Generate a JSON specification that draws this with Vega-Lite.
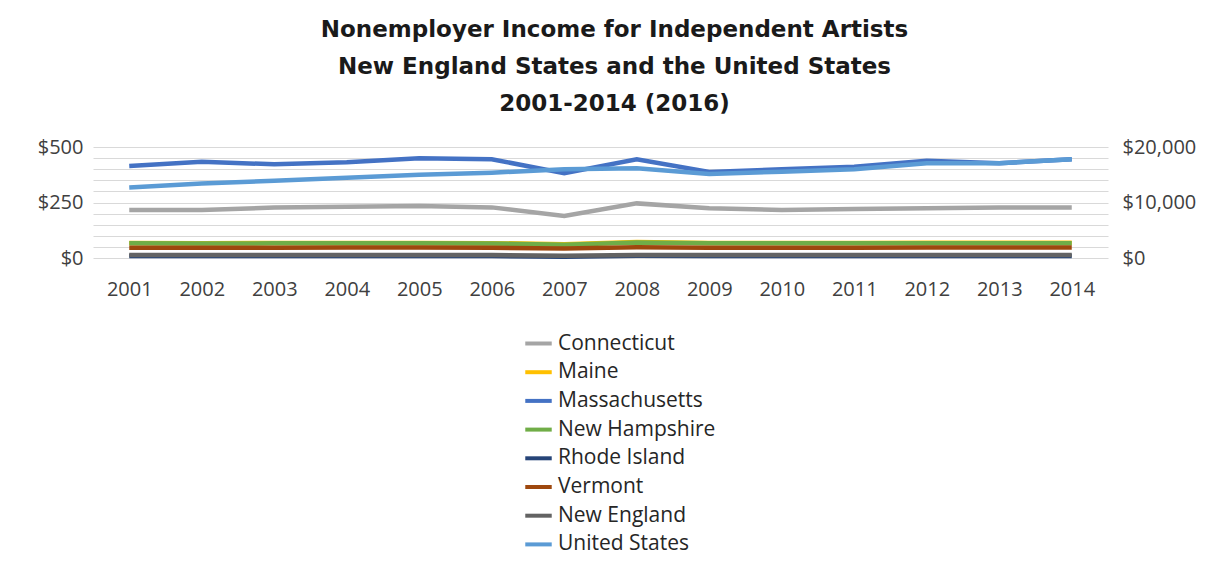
{
  "$schema": "https://vega.github.io/schema/vega-lite/v6.json",
  "width": 1015,
  "height": 111,
  "autosize": {"type": "none"},
  "padding": {"left": 93, "top": 147, "right": 109, "bottom": 321},
  "background": "white",
  "title": {
    "text": ["Nonemployer Income for Independent Artists", "New England States and the United States", "2001-2014 (2016)"],
    "font": "DejaVu Sans",
    "fontSize": 23,
    "fontWeight": "bold",
    "color": "#1a1a1a",
    "lineHeight": 37,
    "anchor": "middle",
    "offset": 21,
    "dx": 14
  },
  "config": {
    "font": "Open Sans",
    "view": {"stroke": null}
  },
  "data": {
    "values": [
      {"year": "2001", "series": "Connecticut", "value": 216},
      {"year": "2002", "series": "Connecticut", "value": 216},
      {"year": "2003", "series": "Connecticut", "value": 227},
      {"year": "2004", "series": "Connecticut", "value": 231},
      {"year": "2005", "series": "Connecticut", "value": 234},
      {"year": "2006", "series": "Connecticut", "value": 228},
      {"year": "2007", "series": "Connecticut", "value": 189},
      {"year": "2008", "series": "Connecticut", "value": 246},
      {"year": "2009", "series": "Connecticut", "value": 224},
      {"year": "2010", "series": "Connecticut", "value": 216},
      {"year": "2011", "series": "Connecticut", "value": 221},
      {"year": "2012", "series": "Connecticut", "value": 224},
      {"year": "2013", "series": "Connecticut", "value": 227},
      {"year": "2014", "series": "Connecticut", "value": 227},
      {"year": "2001", "series": "Maine", "value": 68},
      {"year": "2002", "series": "Maine", "value": 67},
      {"year": "2003", "series": "Maine", "value": 68},
      {"year": "2004", "series": "Maine", "value": 68},
      {"year": "2005", "series": "Maine", "value": 68},
      {"year": "2006", "series": "Maine", "value": 67},
      {"year": "2007", "series": "Maine", "value": 62},
      {"year": "2008", "series": "Maine", "value": 72},
      {"year": "2009", "series": "Maine", "value": 68},
      {"year": "2010", "series": "Maine", "value": 68},
      {"year": "2011", "series": "Maine", "value": 68},
      {"year": "2012", "series": "Maine", "value": 69},
      {"year": "2013", "series": "Maine", "value": 69},
      {"year": "2014", "series": "Maine", "value": 69},
      {"year": "2001", "series": "Massachusetts", "value": 414},
      {"year": "2002", "series": "Massachusetts", "value": 434},
      {"year": "2003", "series": "Massachusetts", "value": 422},
      {"year": "2004", "series": "Massachusetts", "value": 431},
      {"year": "2005", "series": "Massachusetts", "value": 449},
      {"year": "2006", "series": "Massachusetts", "value": 445},
      {"year": "2007", "series": "Massachusetts", "value": 382},
      {"year": "2008", "series": "Massachusetts", "value": 445},
      {"year": "2009", "series": "Massachusetts", "value": 387},
      {"year": "2010", "series": "Massachusetts", "value": 400},
      {"year": "2011", "series": "Massachusetts", "value": 411},
      {"year": "2012", "series": "Massachusetts", "value": 438},
      {"year": "2013", "series": "Massachusetts", "value": 427},
      {"year": "2014", "series": "Massachusetts", "value": 445},
      {"year": "2001", "series": "New Hampshire", "value": 66},
      {"year": "2002", "series": "New Hampshire", "value": 65},
      {"year": "2003", "series": "New Hampshire", "value": 66},
      {"year": "2004", "series": "New Hampshire", "value": 66},
      {"year": "2005", "series": "New Hampshire", "value": 66},
      {"year": "2006", "series": "New Hampshire", "value": 65},
      {"year": "2007", "series": "New Hampshire", "value": 60},
      {"year": "2008", "series": "New Hampshire", "value": 70},
      {"year": "2009", "series": "New Hampshire", "value": 66},
      {"year": "2010", "series": "New Hampshire", "value": 66},
      {"year": "2011", "series": "New Hampshire", "value": 66},
      {"year": "2012", "series": "New Hampshire", "value": 67},
      {"year": "2013", "series": "New Hampshire", "value": 67},
      {"year": "2014", "series": "New Hampshire", "value": 67},
      {"year": "2001", "series": "Rhode Island", "value": 9},
      {"year": "2002", "series": "Rhode Island", "value": 9},
      {"year": "2003", "series": "Rhode Island", "value": 9},
      {"year": "2004", "series": "Rhode Island", "value": 9},
      {"year": "2005", "series": "Rhode Island", "value": 9},
      {"year": "2006", "series": "Rhode Island", "value": 9},
      {"year": "2007", "series": "Rhode Island", "value": 6},
      {"year": "2008", "series": "Rhode Island", "value": 10},
      {"year": "2009", "series": "Rhode Island", "value": 9},
      {"year": "2010", "series": "Rhode Island", "value": 9},
      {"year": "2011", "series": "Rhode Island", "value": 9},
      {"year": "2012", "series": "Rhode Island", "value": 9},
      {"year": "2013", "series": "Rhode Island", "value": 9},
      {"year": "2014", "series": "Rhode Island", "value": 9},
      {"year": "2001", "series": "Vermont", "value": 46},
      {"year": "2002", "series": "Vermont", "value": 46},
      {"year": "2003", "series": "Vermont", "value": 46},
      {"year": "2004", "series": "Vermont", "value": 47},
      {"year": "2005", "series": "Vermont", "value": 47},
      {"year": "2006", "series": "Vermont", "value": 46},
      {"year": "2007", "series": "Vermont", "value": 43},
      {"year": "2008", "series": "Vermont", "value": 48},
      {"year": "2009", "series": "Vermont", "value": 46},
      {"year": "2010", "series": "Vermont", "value": 46},
      {"year": "2011", "series": "Vermont", "value": 46},
      {"year": "2012", "series": "Vermont", "value": 47},
      {"year": "2013", "series": "Vermont", "value": 47},
      {"year": "2014", "series": "Vermont", "value": 47},
      {"year": "2001", "series": "New England", "value": 13},
      {"year": "2002", "series": "New England", "value": 13},
      {"year": "2003", "series": "New England", "value": 13},
      {"year": "2004", "series": "New England", "value": 13},
      {"year": "2005", "series": "New England", "value": 13},
      {"year": "2006", "series": "New England", "value": 13},
      {"year": "2007", "series": "New England", "value": 10},
      {"year": "2008", "series": "New England", "value": 14},
      {"year": "2009", "series": "New England", "value": 13},
      {"year": "2010", "series": "New England", "value": 13},
      {"year": "2011", "series": "New England", "value": 13},
      {"year": "2012", "series": "New England", "value": 13},
      {"year": "2013", "series": "New England", "value": 13},
      {"year": "2014", "series": "New England", "value": 13},
      {"year": "2001", "series": "United States", "value": 12720},
      {"year": "2002", "series": "United States", "value": 13440},
      {"year": "2003", "series": "United States", "value": 13920},
      {"year": "2004", "series": "United States", "value": 14480},
      {"year": "2005", "series": "United States", "value": 15000},
      {"year": "2006", "series": "United States", "value": 15360},
      {"year": "2007", "series": "United States", "value": 16000},
      {"year": "2008", "series": "United States", "value": 16160},
      {"year": "2009", "series": "United States", "value": 15120},
      {"year": "2010", "series": "United States", "value": 15560},
      {"year": "2011", "series": "United States", "value": 16000},
      {"year": "2012", "series": "United States", "value": 17080},
      {"year": "2013", "series": "United States", "value": 17080},
      {"year": "2014", "series": "United States", "value": 17800}
    ]
  },
  "encoding": {
    "x": {
      "field": "year",
      "type": "ordinal",
      "scale": {"type": "point", "padding": 0.5},
      "axis": {
        "title": null,
        "labelAngle": 0,
        "domain": false,
        "ticks": false,
        "labelFontSize": 20,
        "labelColor": "#404040",
        "labelPadding": 21
      }
    },
    "color": {
      "field": "series",
      "type": "nominal",
      "scale": {
        "domain": ["Connecticut", "Maine", "Massachusetts", "New Hampshire", "Rhode Island", "Vermont", "New England", "United States"],
        "range": ["#A5A5A5", "#FFC000", "#4472C4", "#70AD47", "#264478", "#9E480E", "#636363", "#5B9BD5"]
      },
      "legend": {
        "orient": "none",
        "legendX": 430,
        "legendY": 181,
        "direction": "vertical",
        "title": null,
        "symbolType": "stroke",
        "symbolStrokeWidth": 4,
        "symbolSize": 700,
        "labelFontSize": 21,
        "labelColor": "#262626",
        "labelOffset": 4,
        "rowPadding": 2.7,
        "labelLimit": 300
      }
    }
  },
  "layer": [
    {
      "transform": [{"filter": "datum.series !== 'United States'"}],
      "mark": {"type": "line", "strokeWidth": 4.5},
      "encoding": {
        "y": {
          "field": "value",
          "type": "quantitative",
          "scale": {"domain": [0, 500], "nice": false},
          "axis": {
            "title": null,
            "values": [0, 50, 100, 150, 200, 250, 300, 350, 400, 450, 500],
            "labelExpr": "datum.value % 250 === 0 ? '$' + datum.value : ''",
            "domain": false,
            "ticks": false,
            "grid": true,
            "gridColor": "#D9D9D9",
            "labelFontSize": 20,
            "labelColor": "#404040",
            "labelPadding": 10
          }
        }
      }
    },
    {
      "transform": [{"filter": "datum.series === 'United States'"}],
      "mark": {"type": "line", "strokeWidth": 4.5},
      "encoding": {
        "y": {
          "field": "value",
          "type": "quantitative",
          "scale": {"domain": [0, 20000], "nice": false},
          "axis": {
            "orient": "right",
            "title": null,
            "values": [0, 10000, 20000],
            "format": "$,d",
            "domain": false,
            "ticks": false,
            "grid": false,
            "labelFontSize": 20,
            "labelColor": "#404040",
            "labelPadding": 14
          }
        }
      }
    }
  ],
  "resolve": {"scale": {"y": "independent"}}
}
